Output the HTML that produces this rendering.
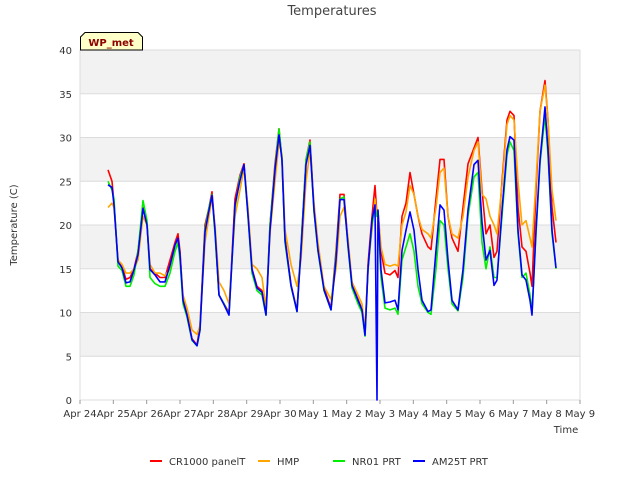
<!DOCTYPE html>
<html><head><meta charset="utf-8"><style>
body{margin:0;background:#fff;font-family:"Liberation Sans","DejaVu Sans",sans-serif}
svg text{font-family:"DejaVu Sans","Liberation Sans",sans-serif}
</style></head><body>
<svg id="c" width="640" height="480" xmlns="http://www.w3.org/2000/svg">
<text x="332" y="15" font-size="13" fill="#444" text-anchor="middle">Temperatures</text>
<g id="plot"></g>
<text transform="translate(17,225) rotate(-90)" font-size="10" fill="#333" text-anchor="middle">Temperature (C)</text>
<text x="566" y="433" font-size="10" fill="#333" text-anchor="middle">Time</text>
<g>
<path d="M80.5,50 L80.5,37 L85,32.5 L138,32.5 L142.5,37 L142.5,50 Z" fill="#ffffc8" stroke="#000"/>
<text x="111" y="46" font-size="10" font-weight="bold" fill="#8b0000" text-anchor="middle">WP_met</text>
</g>
<g id="legend"></g>
</svg>
<script>
const xTicks=["Apr 24","Apr 25","Apr 26","Apr 27","Apr 28","Apr 29","Apr 30","May 1","May 2","May 3","May 4","May 5","May 6","May 7","May 8","May 9"];
const yTicks=[0,5,10,15,20,25,30,35,40];
const seriesNames=["CR1000 panelT","HMP","NR01 PRT","AM25T PRT"];
const seriesColors=["#ff0000","#ffa500","#00ee00","#0000ff"];
const T=[0.84,0.96,1.02,1.14,1.26,1.38,1.50,1.62,1.74,1.89,2.01,2.10,2.25,2.40,2.55,2.70,2.85,2.94,3.00,3.09,3.21,3.36,3.51,3.60,3.75,3.87,3.96,4.05,4.17,4.32,4.47,4.65,4.80,4.92,5.04,5.16,5.31,5.46,5.58,5.70,5.85,5.97,6.06,6.15,6.33,6.51,6.63,6.78,6.90,7.02,7.14,7.32,7.53,7.68,7.80,7.92,8.04,8.16,8.34,8.46,8.55,8.64,8.76,8.85,8.91,8.94,9.03,9.15,9.30,9.45,9.54,9.66,9.78,9.90,10.02,10.14,10.26,10.44,10.53,10.68,10.80,10.92,11.04,11.16,11.34,11.49,11.64,11.82,11.94,12.06,12.18,12.30,12.42,12.51,12.66,12.81,12.90,13.02,13.14,13.26,13.38,13.50,13.56,13.68,13.80,13.95,14.04,14.16,14.28];
const cr1000=[26.3,25,22.5,15.8,15.3,13.8,14,15,17,22,20,15,14.5,14,14,16,18,19,17,11.5,9.8,7,6.3,8.5,20,22,23.8,19.5,12,11,10,23,25.7,27,21.5,15,13,12.5,10,20,27,31,27.5,18.5,13.2,10.2,17.5,27.5,29.7,22,17.2,12.8,10.5,17,23.5,23.5,18,13.2,11.5,10.4,7.5,15.5,21,24.5,
21,21.5,17,14.5,14.3,14.8,14,21,22.5,26,23.5,21,19,17.5,17.2,23,27.5,27.5,21,18.5,17,22,27,28.8,30,24,19,20,16.3,17,25,32,33,32.5,22,17.5,17,14.5,13,24,33,36.5,32,22,18];
const hmp=[22,22.5,22,16,15.5,14.5,14.5,15,16,21,20,15.5,14.5,14.5,14.2,15,17,18,16.5,12,10.5,8,7.5,8.5,18,21,23,20,13.5,12.5,11,21,24,26.5,22,15.5,15,14,10.5,19,25,29.5,28,19.5,15.5,13,16,25,28.5,22.5,18,13,11.5,15,21,22,18.5,13.5,12,11,8,15,19.5,23,
21,21.5,17.5,15.5,15.3,15.5,15.3,20,21.5,24.5,23.5,21,19.5,19,18.5,22,26,26.5,21,19,18.5,21,25.5,28.5,29.5,23.5,23,21,20,19,24.5,31.5,32.5,32,25,20,20.5,18.5,17.5,25,33,36,32,24,20.5];
const nr01=[25,24,23,15.3,14.8,13,13,14.3,17,22.8,20.5,14,13.3,13,13,14.5,17,18,16,11,9.5,6.8,6.2,8,19.5,22,23.5,19,12,11,9.8,22,25.5,26.8,21,14.5,12.5,12,9.7,20,26.5,31,27.5,18,13,10.1,17.5,27.5,29.5,21.5,17,12.5,10.3,16.5,23,23.2,17.5,12.8,11,10,7.3,15,20,22,
21,21,14,10.5,10.3,10.5,9.8,16,17.5,19,17,13,11,10,9.8,15,20.5,20,15,11,10.2,14,21,25.5,26,18,15,17.5,14,14,21,28,29.5,28.5,19,14,14.5,12,10,19,27,32.5,28,19,15];
const am25t=[24.6,24.3,22.3,15.8,15.1,13.4,13.5,14.9,16.6,21.9,20.0,14.9,14.3,13.5,13.5,15.4,17.7,18.5,16.6,11.4,9.7,6.9,6.2,8.0,19.2,21.7,23.4,19.4,12.0,10.9,9.7,22.3,25.1,26.9,21.1,14.9,12.8,12.3,9.7,19.4,26.3,30.3,27.4,18.3,13.1,10.1,17.1,26.9,29.1,21.7,17.1,12.6,10.3,16.0,22.9,22.9,17.7,13.1,11.4,10.3,7.4,14.9,20.6,22.3,0,21.7,14.9,11.1,11.2,11.4,10.3,17.1,19.4,21.5,19.4,14.9,11.4,10.1,10.3,17.1,22.3,21.7,16.0,11.4,10.3,14.9,21.7,26.9,27.4,20.3,16.0,17.1,13.1,13.7,21.7,28.6,30.1,29.7,19.4,14.3,13.7,11.4,9.7,19.4,27.4,33.5,28.6,19.4,15.1];
const seriesData=[cr1000,hmp,nr01,am25t];
const X0=80,X1=580,Y0=400,Y1=50;
const xs=d=>X0+(X1-X0)*d/15;
const ys=v=>Y0-(Y0-Y1)*v/40;
const NS="http://www.w3.org/2000/svg";
const plot=document.getElementById('plot');
function mk(tag,at,parent){const e=document.createElementNS(NS,tag);for(const k in at)e.setAttribute(k,at[k]);parent.appendChild(e);return e;}
mk('rect',{x:X0,y:Y1,width:X1-X0,height:Y0-Y1,fill:'#fff'},plot);
for(let i=0;i<yTicks.length-1;i++){if(i%2===1){const r=mk('rect',{x:X0,y:ys(yTicks[i+1]),width:X1-X0,height:ys(yTicks[i])-ys(yTicks[i+1]),fill:'#f2f2f2'},plot);

}}
yTicks.forEach(v=>{const l=mk('line',{x1:X0,x2:X1,y1:ys(v),y2:ys(v),stroke:'#dcdcdc','stroke-width':1},plot);


const t=mk('text',{x:X0-8,y:ys(v)+4,'font-size':10,fill:'#333','text-anchor':'end'},plot);t.textContent=v;

});
mk('line',{x1:X1,x2:X1,y1:Y1,y2:Y0,stroke:'#dcdcdc'},plot);
mk('line',{x1:X0,x2:X0,y1:Y1,y2:Y0,stroke:'#dcdcdc'},plot);
xTicks.forEach((s,i)=>{mk('line',{x1:xs(i),x2:xs(i),y1:Y0,y2:Y0+4,stroke:'#999'},plot);
const t=mk('text',{x:xs(i),y:Y0+17,'font-size':10,fill:'#333','text-anchor':'middle'},plot);t.textContent=s;

});
seriesData.forEach((arr,k)=>{const d=arr.map((v,i)=>(i?'L':'M')+xs(T[i]).toFixed(1)+','+ys(v).toFixed(1)).join('');
const p=mk('path',{d:d,fill:'none',stroke:seriesColors[k],'stroke-width':1.6,'stroke-linejoin':'round'},plot);

});
const leg=document.getElementById('legend');
const lx=[150,258,333,413];
seriesNames.forEach((n,k)=>{mk('line',{x1:lx[k],x2:lx[k]+12,y1:461,y2:461,stroke:seriesColors[k],'stroke-width':2},leg);
const t=mk('text',{x:lx[k]+19,y:465,'font-size':10,fill:'#333'},leg);t.textContent=n;

});
</script>
</body></html>
